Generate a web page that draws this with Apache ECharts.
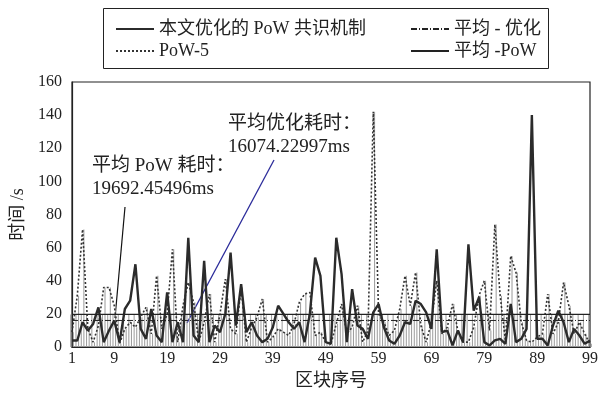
<!DOCTYPE html>
<html>
<head>
<meta charset="utf-8">
<script src="https://cdn.jsdelivr.net/npm/echarts@6/dist/echarts.min.js"></script>
<style>
  html, body { margin: 0; padding: 0; background: #fff; }
  #chart { width: 601px; height: 395px; }
</style>
</head>
<body>
<div id="chart"></div>
<script>
// 区块序号 1..99
const blockIds = [];
for (let i = 1; i <= 99; i++) blockIds.push(String(i));
const xTickLabels = ['1', '9', '19', '29', '39', '49', '59', '69', '79', '89', '99'];

// 本文优化的 PoW 共识机制 (s)
const optTimes = [
  4, 4, 15, 10, 14, 24, 3, 10, 16, 3,
  23, 28, 50, 11, 5, 23, 7, 3, 33, 3,
  15, 3, 66, 7, 3, 52, 3, 13, 9, 20,
  57, 13, 38, 9, 15, 7, 3, 5, 12, 25,
  20, 15, 11, 15, 3, 20, 54, 43, 3, 2,
  66, 44, 3, 35, 13, 11, 5, 21, 26, 12,
  4, 2, 7, 15, 14, 28, 26, 21, 11, 59,
  9, 10, 1, 10, 3, 62, 22, 30, 3, 1,
  4, 5, 2, 26, 3, 5, 11, 140, 5, 5,
  1, 13, 22, 15, 3, 11, 7, 2, 4
];

// PoW-5 (s)
const pow5Times = [
  9, 31, 71, 11, 3, 13, 36, 36, 25, 2,
  11, 15, 12, 18, 24, 8, 43, 11, 20, 59,
  3, 25, 39, 27, 3, 15, 32, 3, 20, 41,
  11, 8, 36, 3, 12, 18, 29, 3, 6, 11,
  9, 7, 14, 27, 32, 33, 7, 9, 3, 2,
  14, 26, 8, 12, 25, 3, 10, 142, 20, 15,
  7, 10, 23, 43, 25, 45, 13, 3, 15, 40,
  8, 12, 26, 10, 3, 3, 12, 31, 40, 10,
  74, 31, 4, 55, 45, 15, 4, 3, 6, 8,
  32, 8, 15, 39, 25, 8, 15, 8, 2
];

const AVG_OPT = 16.07422997;
const AVG_POW = 19.69245496;

const yTicks = { min: 0, max: 160, interval: 20 };

const serif = "'Liberation Serif', 'DejaVu Serif', 'Noto Sans CJK SC', serif";
const ink = '#222';

const chart = echarts.init(document.getElementById('chart'), null, { renderer: 'canvas' });

const legendBase = {
  top: 15, orient: 'vertical', itemGap: 4,
  itemWidth: 38, itemHeight: 14,
  itemStyle: { color: 'rgba(0,0,0,0)', borderWidth: 0 },
  textStyle: { fontFamily: serif, fontSize: 18, color: ink }
};

chart.setOption({
  animation: false,
  backgroundColor: '#fff',
  textStyle: { fontFamily: serif, color: ink },
  grid: {
    left: 72, right: 11, top: 82, bottom: 43,
    show: true, borderColor: ink, borderWidth: 1.2
  },
  legend: [
    Object.assign({ left: 110, data: ['本文优化的 PoW 共识机制', 'PoW-5'] }, legendBase),
    Object.assign({ left: 405, data: ['平均 - 优化', '平均 -PoW'] }, legendBase)
  ],
  xAxis: {
    type: 'category',
    data: blockIds,
    boundaryGap: false,
    name: '区块序号',
    nameLocation: 'middle',
    nameGap: 24,
    nameTextStyle: { fontFamily: serif, fontSize: 18, color: ink },
    axisLine: { lineStyle: { color: ink, width: 1.2 } },
    axisTick: { show: false },
    axisLabel: {
      interval: (idx, val) => xTickLabels.includes(val),
      fontFamily: serif, fontSize: 16, color: ink, margin: 4
    },
    splitLine: { show: false }
  },
  yAxis: {
    type: 'value',
    min: yTicks.min, max: yTicks.max, interval: yTicks.interval,
    name: '时间 /s',
    nameLocation: 'middle',
    nameGap: 37,
    nameTextStyle: { fontFamily: serif, fontSize: 18, color: ink },
    axisLine: { show: true, lineStyle: { color: ink, width: 1.2 } },
    axisTick: { show: false },
    axisLabel: { fontFamily: serif, fontSize: 16, color: ink, margin: 10 },
    splitLine: { show: false }
  },
  series: [
    {
      name: 'band',
      type: 'bar',
      z: 1,
      barWidth: 1,
      barGap: '160%',
      silent: true,
      itemStyle: { color: '#9a9a9a' },
      data: blockIds.map(() => AVG_POW)
    },
    {
      name: 'pow5bar',
      type: 'bar',
      z: 1,
      barWidth: 1,
      silent: true,
      itemStyle: { color: '#9a9a9a' },
      data: pow5Times
    },
    {
      name: 'PoW-5',
      type: 'line',
      z: 3,
      symbol: 'none',
      lineStyle: { color: '#333', width: 1.6, type: [2, 2] },
      itemStyle: { color: '#333' },
      data: pow5Times
    },
    {
      name: '本文优化的 PoW 共识机制',
      type: 'line',
      z: 4,
      symbol: 'none',
      lineStyle: { color: '#2b2b2b', width: 2.4 },
      itemStyle: { color: '#2b2b2b' },
      data: optTimes
    },
    {
      name: '平均 - 优化',
      type: 'line',
      z: 5,
      symbol: 'none',
      lineStyle: { color: ink, width: 1, type: [6, 2, 1, 2] },
      itemStyle: { color: ink },
      data: [[blockIds[0], AVG_OPT], [blockIds[blockIds.length - 1], AVG_OPT]]
    },
    {
      name: '平均 -PoW',
      type: 'line',
      z: 5,
      symbol: 'none',
      lineStyle: { color: ink, width: 1.2 },
      itemStyle: { color: ink },
      data: [[blockIds[0], AVG_POW], [blockIds[blockIds.length - 1], AVG_POW]]
    }
  ],
  graphic: [
    {
      type: 'rect',
      shape: { x: 103.5, y: 8.5, width: 445, height: 60 },
      style: { fill: 'none', stroke: ink, lineWidth: 1 },
      silent: true
    },
    {
      type: 'text', left: 92, top: 155,
      style: { text: '平均 PoW 耗时：\n19692.45496ms', font: "19px " + serif, fill: ink, lineHeight: 23 }
    },
    {
      type: 'line',
      shape: { x1: 125, y1: 207, x2: 115, y2: 318 },
      style: { stroke: '#111', lineWidth: 1.2 }
    },
    {
      type: 'text', left: 228, top: 113,
      style: { text: '平均优化耗时：\n16074.22997ms', font: "19px " + serif, fill: ink, lineHeight: 23 }
    },
    {
      type: 'line',
      shape: { x1: 274, y1: 160, x2: 187, y2: 323 },
      style: { stroke: '#2b2b9a', lineWidth: 1.3 }
    }
  ]
});
</script>
</body>
</html>
